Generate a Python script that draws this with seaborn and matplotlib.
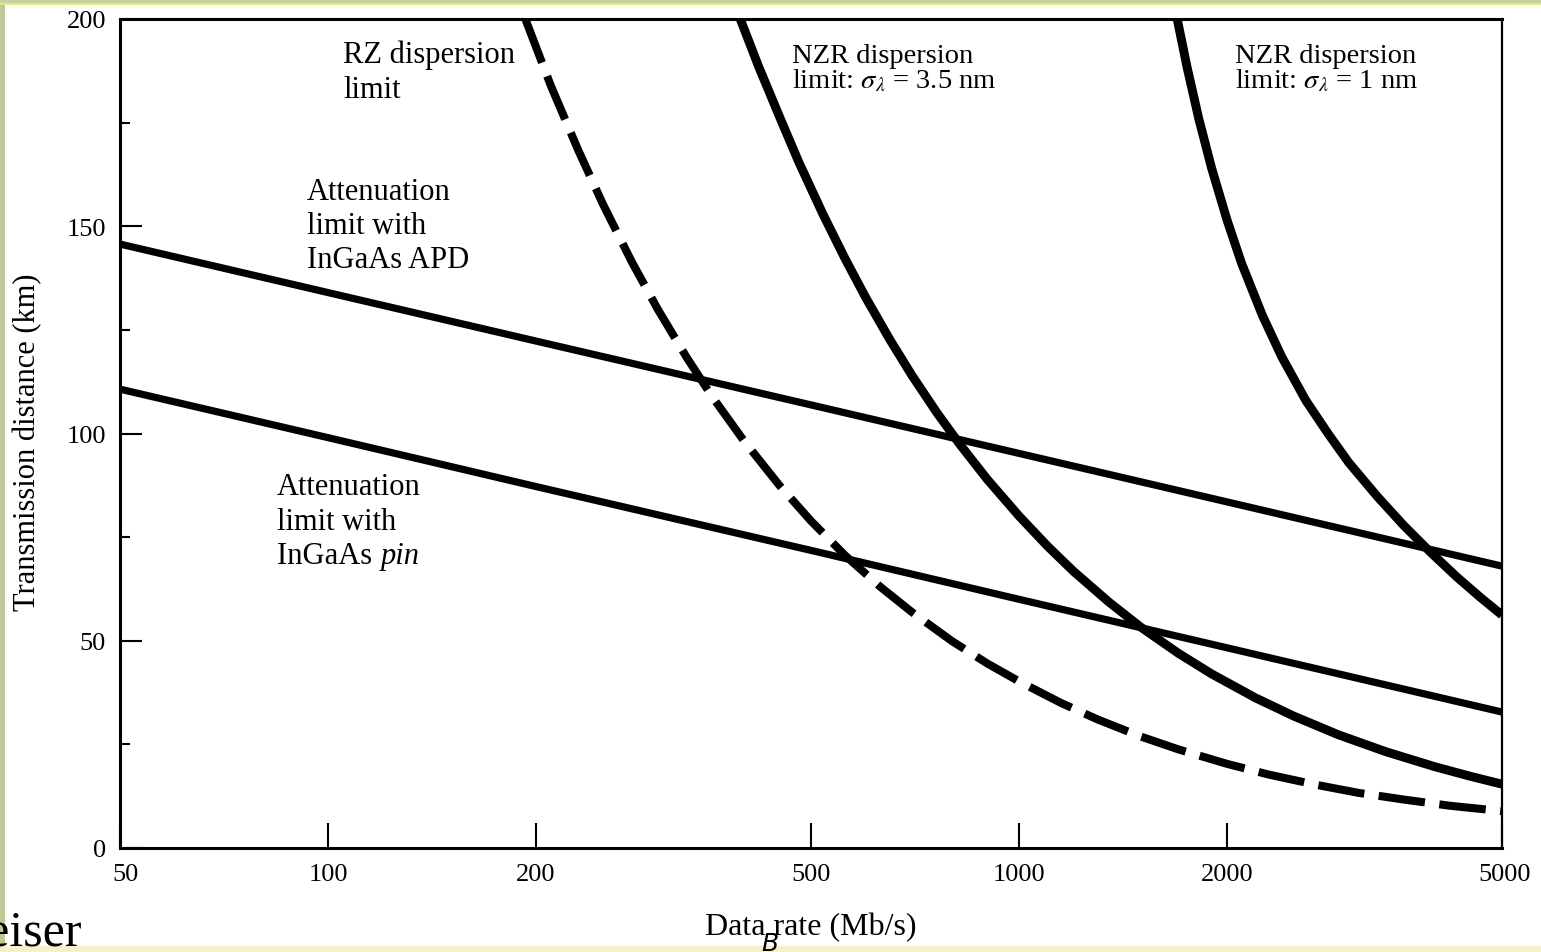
import matplotlib
matplotlib.use("Agg")
import matplotlib.pyplot as plt
import matplotlib.transforms as mtransforms
import seaborn as sns
import pandas as pd
from matplotlib.patches import Rectangle
from matplotlib.ticker import FixedLocator, FixedFormatter, NullLocator

# ---------------- data ----------------
rate_att = [50, 100, 200, 500, 1000, 2000, 5000]
apd_km = [145.7, 134.0, 122.3, 106.9, 95.2, 83.5, 68.0]
pin_km = [110.7, 99.0, 87.2, 71.8, 60.0, 48.3, 32.8]

rz_rate = [193, 210, 230, 250, 275, 300, 330, 360, 400, 450, 500, 560, 630, 700,
           800, 900, 1000, 1150, 1300, 1500, 1700, 2000, 2300, 2700, 3100, 3600,
           4200, 5000]
rz_km = [200.0, 184.0, 168.5, 155.3, 141.5, 130.0, 118.5, 108.8, 98.2, 87.5, 78.9,
         70.6, 63.0, 56.9, 49.9, 44.5, 40.2, 35.0, 31.0, 26.9, 23.8, 20.3, 17.7,
         15.2, 13.3, 11.7, 10.2, 8.9]

nzr35_rate = [395, 420, 450, 480, 520, 560, 600, 650, 700, 760, 820, 900, 1000,
              1100, 1200, 1350, 1500, 1700, 1900, 2200, 2500, 2900, 3400, 4000,
              4500, 5000]
nzr35_km = [200.0, 188.5, 176.5, 165.5, 153.0, 142.2, 132.8, 122.7, 114.0, 105.1,
            97.5, 88.9, 80.1, 72.8, 66.7, 59.3, 53.3, 47.0, 42.0, 36.2, 31.8, 27.3,
            23.2, 19.6, 17.3, 15.4]

nzr1_rate = [1694, 1750, 1820, 1900, 2000, 2100, 2250, 2400, 2600, 2800, 3000,
             3300, 3600, 3932, 4300, 4650, 5000]
nzr1_km = [200.0, 188.5, 176.0, 164.0, 151.5, 141.0, 128.5, 118.5, 108.0, 100.0,
           93.0, 84.8, 77.9, 71.5, 65.4, 60.5, 56.2]

x_ticks = [50, 100, 200, 500, 1000, 2000, 5000]
x_ticklabels = ["50", "100", "200", "500", "1000", "2000", "5000"]
y_ticks = [0, 50, 100, 150, 200]
y_minor = [25, 75, 125, 175]

# ---------------- style ----------------
sns.set_theme(style="white")
plt.rcParams["font.family"] = ["Liberation Serif", "DejaVu Serif"]
plt.rcParams["mathtext.fontset"] = "stix"

W, H = 1541, 953
fig = plt.figure(figsize=(W / 100, H / 100), dpi=100, facecolor="white")
ax = fig.add_axes([120 / W, 104 / H, 1382 / W, 829 / H])
ax.set_facecolor("white")


def fx(px):
    return px / W


def fy(py):
    return 1 - py / H


# decorative slide border strips
fig.patches.append(Rectangle((0, 0), fx(5), 1, transform=fig.transFigure,
                             facecolor="#c4c49a", edgecolor="none", zorder=0))
fig.patches.append(Rectangle((0, fy(4)), 1, 4 / H, transform=fig.transFigure,
                             facecolor="#cdcfa2", edgecolor="none", zorder=0))
fig.patches.append(Rectangle((0, fy(5.5)), 1, 1.5 / H, transform=fig.transFigure,
                             facecolor="#d8f07e", edgecolor="none", zorder=0))
fig.patches.append(Rectangle((0, 0), 1, 6 / H, transform=fig.transFigure,
                             facecolor="#f4f1c4", edgecolor="none", zorder=0))

# ---------------- lines ----------------
df_apd = pd.DataFrame({"rate": rate_att, "km": apd_km})
df_pin = pd.DataFrame({"rate": rate_att, "km": pin_km})
df_rz = pd.DataFrame({"rate": rz_rate, "km": rz_km})
df_n35 = pd.DataFrame({"rate": nzr35_rate, "km": nzr35_km})
df_n1 = pd.DataFrame({"rate": nzr1_rate, "km": nzr1_km})

common = dict(ax=ax, color="black", estimator=None)
sns.lineplot(data=df_apd, x="rate", y="km", linewidth=5.2, solid_capstyle="butt", **common)
sns.lineplot(data=df_pin, x="rate", y="km", linewidth=5.2, solid_capstyle="butt", **common)
sns.lineplot(data=df_n35, x="rate", y="km", linewidth=6.4, solid_capstyle="butt",
             solid_joinstyle="round", **common)
sns.lineplot(data=df_n1, x="rate", y="km", linewidth=6.4, solid_capstyle="butt",
             solid_joinstyle="round", **common)
sns.lineplot(data=df_rz, x="rate", y="km", linewidth=5.8, **common)
ax.lines[-1].set_linestyle((0, (5.8, 1.8)))
ax.lines[-1].set_dash_capstyle("butt")

# ---------------- axes ----------------
ax.set_xscale("log")
ax.set_xlim(50, 5000)
ax.set_ylim(0, 200)

ax.xaxis.set_major_locator(FixedLocator(x_ticks))
ax.xaxis.set_major_formatter(FixedFormatter(x_ticklabels))
ax.xaxis.set_minor_locator(NullLocator())
ax.yaxis.set_major_locator(FixedLocator(y_ticks))
ax.yaxis.set_minor_locator(FixedLocator(y_minor))

ax.tick_params(axis="x", which="major", direction="in", length=18, width=1.5,
               color="black", labelsize=19, pad=11, bottom=True, top=False,
               labelcolor="black")
ax.tick_params(axis="y", which="major", direction="in", length=16, width=1.5,
               color="black", labelsize=19, pad=10, left=True, right=False,
               labelcolor="black")
ax.tick_params(axis="y", which="minor", direction="in", length=7, width=1.5,
               color="black", left=True, right=False)

# nudge the edge labels as in the reference
xlabels = ax.get_xticklabels()
xlabels[0].set_transform(xlabels[0].get_transform() +
                         mtransforms.ScaledTranslation(6 / 100, 0, fig.dpi_scale_trans))
xlabels[-1].set_transform(xlabels[-1].get_transform() +
                          mtransforms.ScaledTranslation(3 / 100, 0, fig.dpi_scale_trans))

for side, lw in [("left", 2.2), ("bottom", 2.2), ("top", 2.2), ("right", 1.6)]:
    ax.spines[side].set_visible(True)
    ax.spines[side].set_color("black")
    ax.spines[side].set_linewidth(lw)

ax.set_xlabel("Data rate (Mb/s)", fontsize=23, color="black", va="baseline")
ax.xaxis.set_label_coords((811 - 120) / 1382, (849 - 935) / 829)
ax.set_ylabel("Transmission distance (km)", fontsize=22, color="black", va="center")
ax.yaxis.set_label_coords((28 - 120) / 1382, (849 - 442) / 829)


# ---------------- annotations ----------------
def label(px, py, s, size=22, **kw):
    fig.text(fx(px), fy(py), s, fontsize=size, color="black", ha="left",
             va="baseline", **kw)


label(343, 63, "RZ dispersion")
label(343, 98, "limit")

label(792, 63, "NZR dispersion", size=20.5)
label(792, 88, r"limit: $\sigma_\lambda$ = 3.5 nm", size=20.5)

label(1235, 63, "NZR dispersion", size=20.5)
label(1235, 88, r"limit: $\sigma_\lambda$ = 1 nm", size=20.5)

label(307, 200, "Attenuation")
label(307, 234, "limit with")
label(307, 268, "InGaAs APD")

label(277, 495, "Attenuation")
label(277, 530, "limit with")
label(277, 564, "InGaAs ")
label(381, 564, "pin", style="italic")

# slide residue text
fig.text(fx(82), fy(946), "Keiser", fontsize=36, color="black", ha="right",
         va="baseline", zorder=2)
fig.text(fx(770), fy(932), "B", fontsize=18, color="black", ha="center",
         va="top", family=["DejaVu Sans"], style="italic", zorder=5)

fig.savefig("out.png", dpi=100, facecolor="white")
